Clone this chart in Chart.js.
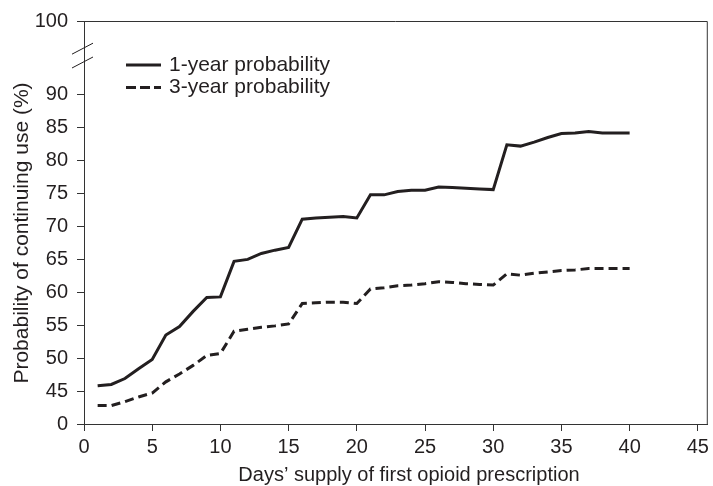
<!DOCTYPE html>
<html>
<head>
<meta charset="utf-8">
<script src="https://cdn.jsdelivr.net/npm/chart.js@4"></script>
<style>
  html, body { margin:0; padding:0; background:#fff; }
  #wrap { width:713px; height:486px; }
</style>
</head>
<body>
<div id="wrap"><canvas id="c" width="713" height="486"></canvas></div>
<script>
// days' supply on x, probability (%) on y
const days = [1,2,3,4,5,6,7,8,9,10,11,12,13,14,15,16,17,18,19,20,
              21,22,23,24,25,26,27,28,29,30,31,32,33,34,35,36,37,38,39,40];
const oneYear = [45.8,46.0,46.9,48.4,49.8,53.5,54.8,57.1,59.2,59.3,
                 64.7,65.0,65.9,66.4,66.8,71.1,71.3,71.4,71.5,71.3,
                 74.8,74.8,75.3,75.5,75.5,76.0,75.9,75.8,75.7,75.6,
                 82.4,82.2,82.8,83.5,84.1,84.2,84.4,84.2,84.2,84.2];
const threeYear = [42.8,42.8,43.4,44.1,44.7,46.4,47.6,48.9,50.4,50.7,
                   54.1,54.4,54.7,54.9,55.2,58.3,58.4,58.5,58.5,58.3,
                   60.5,60.7,61.0,61.1,61.3,61.6,61.5,61.3,61.2,61.1,
                   62.8,62.6,62.9,63.1,63.3,63.4,63.6,63.6,63.6,63.6];
const seriesNames = ['1-year probability','3-year probability'];

const xTicks = [0,5,10,15,20,25,30,35,40,45];
// broken axis: bottom "0" and top "100" sit at these positions
const yTickValues = [40,45,50,55,60,65,70,75,80,85,90,101.2];
const yTickLabels = ['0','45','50','55','60','65','70','75','80','85','90','100'];
const xTitle = 'Days’ supply of first opioid prescription';
const yTitle = 'Probability of continuing use (%)';

const INK = '#231f20';
const FONT = "'Liberation Sans', Arial, sans-serif";

const frame = {
  id:'frame',
  afterDraw(chart){
    const {ctx, chartArea:a, scales} = chart;
    ctx.save();
    ctx.strokeStyle = '#333';
    ctx.lineWidth = 1;
    ctx.beginPath();
    ctx.moveTo(a.left, a.top+0.5); ctx.lineTo(a.right-0.5, a.top+0.5);
    ctx.lineTo(a.right-0.5, a.bottom);
    ctx.stroke();
    // break marks on the y axis
    ctx.strokeStyle = INK;
    [97, 94.9].forEach(v=>{
      const y = scales.y.getPixelForValue(v);
      ctx.beginPath();
      ctx.moveTo(a.left-12, y+5.5); ctx.lineTo(a.left+9, y-5.5);
      ctx.stroke();
    });
    // legend
    ctx.font = '21px ' + FONT;
    ctx.textBaseline = 'middle';
    ctx.fillStyle = INK;
    chart.data.datasets.forEach((ds,i)=>{
      const y = 65 + i*22.5;
      ctx.strokeStyle = INK;
      ctx.lineWidth = 3;
      ctx.setLineDash(i ? [10,4] : []);
      ctx.beginPath(); ctx.moveTo(126, y); ctx.lineTo(161, y); ctx.stroke();
      ctx.setLineDash([]);
      ctx.fillText(ds.label, 169, y);
    });
    // axis titles
    ctx.textAlign = 'center';
    ctx.font = '20px ' + FONT;
    ctx.fillText(xTitle, 409, 475);
    ctx.translate(22, 233);
    ctx.rotate(-Math.PI/2);
    ctx.font = '21px ' + FONT;
    ctx.fillText(yTitle, 0, 0);
    ctx.restore();
  }
};

new Chart(document.getElementById('c').getContext('2d'), {
  type:'line',
  data:{
    datasets:[
      { label:seriesNames[0], data:days.map((d,i)=>({x:d, y:oneYear[i]})),
        borderColor:INK, borderWidth:3, pointRadius:0, tension:0, fill:false },
      { label:seriesNames[1], data:days.map((d,i)=>({x:d, y:threeYear[i]})),
        borderColor:INK, borderWidth:3, borderDash:[9,5], pointRadius:0, tension:0, fill:false }
    ]
  },
  options:{
    responsive:false, animation:false, devicePixelRatio:1,
    layout:{ padding:{ top:19, right:3, left:0, bottom:0 } },
    plugins:{ legend:{ display:false }, tooltip:{ enabled:false } },
    scales:{
      x:{
        type:'linear', min:0, max:45.73,
        afterBuildTicks(s){ s.ticks = xTicks.map(v=>({value:v})); },
        afterFit(s){ s.height = 62; },
        grid:{ drawOnChartArea:false, drawTicks:true, tickLength:7, color:'#333' },
        border:{ display:true, color:'#333', width:1 },
        ticks:{ color:INK, font:{ family:FONT, size:20 }, padding:4, maxRotation:0 }
      },
      y:{
        type:'linear', min:40, max:101.2,
        afterBuildTicks(s){ s.ticks = yTickValues.map(v=>({value:v})); },
        afterFit(s){ s.width = 84; },
        grid:{ drawOnChartArea:false, drawTicks:true, tickLength:7, color:'#333' },
        border:{ display:true, color:'#333', width:1 },
        ticks:{ color:INK, font:{ family:FONT, size:20 }, padding:9,
                callback:(v)=> yTickLabels[yTickValues.indexOf(v)] }
      }
    }
  },
  plugins:[frame]
});
</script>
</body>
</html>
